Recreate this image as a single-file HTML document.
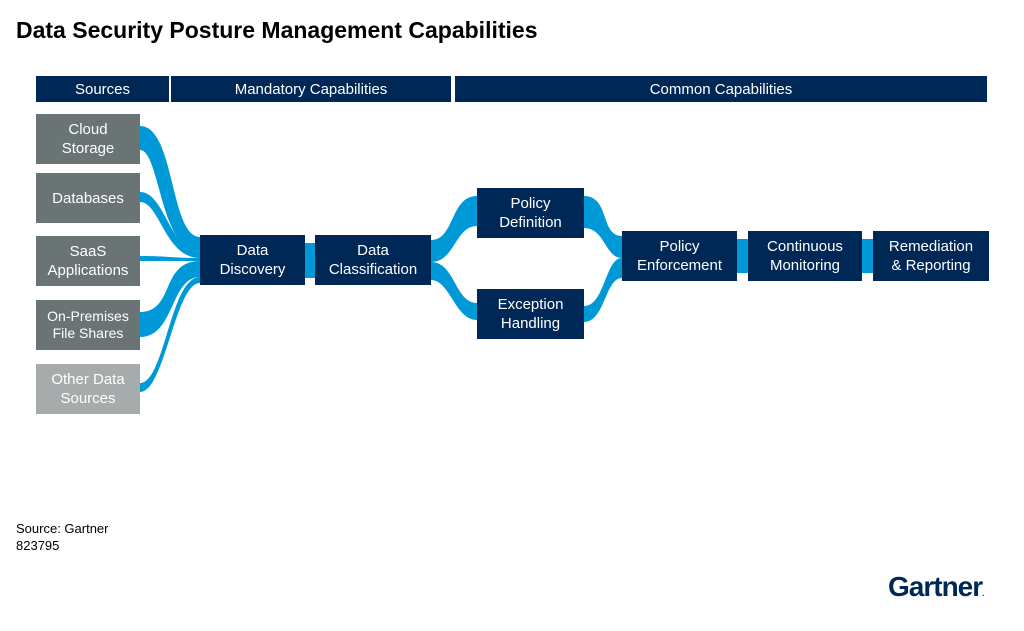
<!DOCTYPE html>
<html><head><meta charset="utf-8"><style>
body{margin:0;width:1024px;height:631px;background:#fff;font-family:"Liberation Sans",sans-serif;position:relative;overflow:hidden}
.t{position:absolute;left:16px;top:17px;font-size:23px;font-weight:bold;color:#000}
.b{position:absolute;display:flex;align-items:center;justify-content:center;text-align:center;color:#fff;font-size:15px;line-height:19px}
.h{background:#002856;top:76px;height:26px}
.n{background:#002856}
.g{background:#6b7474}
.f{position:absolute;font-size:13px;color:#000;line-height:17px}
</style></head><body>
<div class="t">Data Security Posture Management Capabilities</div>
<div class="b h" style="left:36px;width:133px">Sources</div>
<div class="b h" style="left:171px;width:280px">Mandatory Capabilities</div>
<div class="b h" style="left:455px;width:532px">Common Capabilities</div>
<svg width="1024" height="631" style="position:absolute;left:0;top:0">
<g fill="#0099d8">
<path d="M140,126 C175,126 170,237 200,237 L200,252 C160,252 160,150 140,150Z"/>
<path d="M140,192 C165,192 170,252 200,252 L200,258 C165,258 160,202 140,202Z"/>
<path d="M140,256 C170,256 170,258 200,258 L200,261 C170,261 170,261 140,261Z"/>
<path d="M140,312 C175,312 160,261 200,261 L200,277 C170,277 175,337 140,337Z"/>
<path d="M140,383 C165,383 170,277 200,277 L200,283 C175,283 165,392 140,392Z"/>
<rect x="305" y="243" width="10" height="35"/>
<path d="M431,240 C455,240 450,196 477,196 L477,226 C455,226 455,262 431,262Z"/>
<path d="M431,262 C455,262 455,303 477,303 L477,320 C455,320 450,280 431,280Z"/>
<path d="M584,196 C610,196 600,236 622,236 L622,258 C605,258 605,228 584,228Z"/>
<path d="M584,306 C605,306 605,258 622,258 L622,278 C605,278 605,322 584,322Z"/>
<rect x="737" y="239" width="11" height="34"/>
<rect x="862" y="239" width="11" height="34"/>
</g></svg>
<div class="b g" style="left:36px;top:114px;width:104px;height:50px">Cloud<br>Storage</div>
<div class="b g" style="left:36px;top:173px;width:104px;height:50px">Databases</div>
<div class="b g" style="left:36px;top:236px;width:104px;height:50px">SaaS<br>Applications</div>
<div class="b g" style="left:36px;top:300px;width:104px;height:50px;font-size:14px;line-height:17px">On-Premises<br>File Shares</div>
<div class="b" style="left:36px;top:364px;width:104px;height:50px;background:#a6abab">Other Data<br>Sources</div>
<div class="b n" style="left:200px;top:235px;width:105px;height:50px">Data<br>Discovery</div>
<div class="b n" style="left:315px;top:235px;width:116px;height:50px">Data<br>Classification</div>
<div class="b n" style="left:477px;top:188px;width:107px;height:50px">Policy<br>Definition</div>
<div class="b n" style="left:477px;top:289px;width:107px;height:50px">Exception<br>Handling</div>
<div class="b n" style="left:622px;top:231px;width:115px;height:50px">Policy<br>Enforcement</div>
<div class="b n" style="left:748px;top:231px;width:114px;height:50px">Continuous<br>Monitoring</div>
<div class="b n" style="left:873px;top:231px;width:116px;height:50px">Remediation<br>&amp; Reporting</div>
<div class="f" style="left:16px;top:520px">Source: Gartner<br>823795</div>
<div style="position:absolute;left:888px;top:571px;font-size:28px;font-weight:bold;color:#002856;letter-spacing:-1px">Gartner<span style="font-size:8px">.</span></div>
</body></html>
